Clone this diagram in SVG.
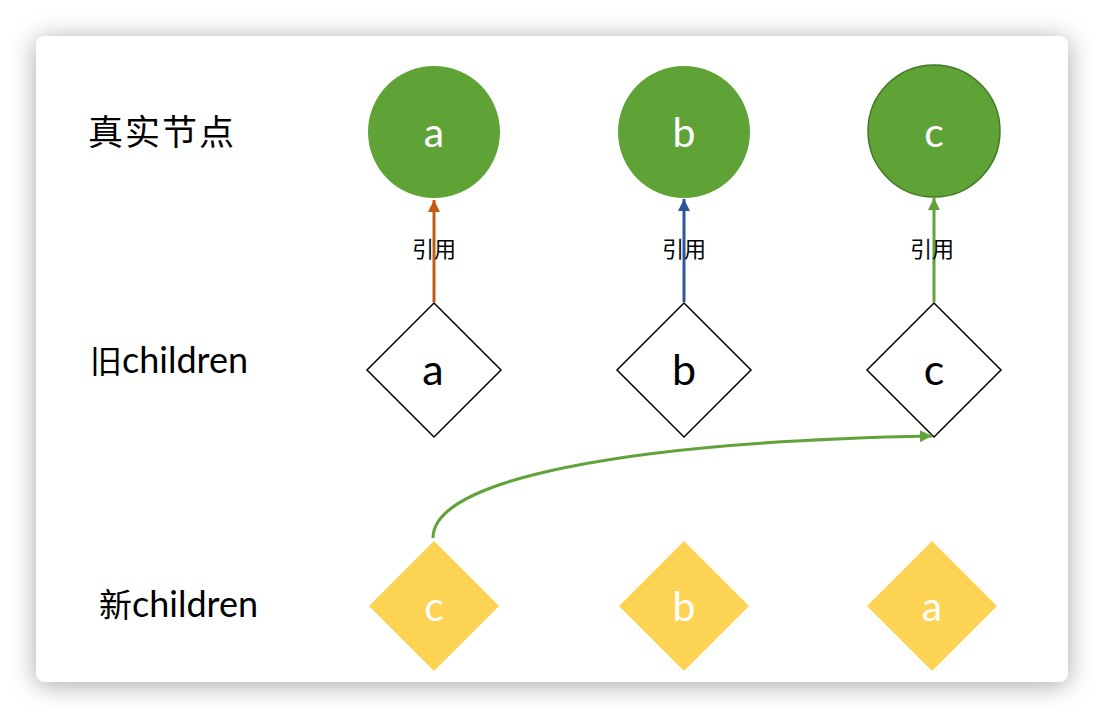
<svg xmlns="http://www.w3.org/2000/svg" width="1104" height="718" viewBox="0 0 1104 718">
<defs>
<filter id="sh" x="-10%" y="-10%" width="120%" height="125%">
<feDropShadow dx="0" dy="3" stdDeviation="13" flood-color="#000" flood-opacity="0.35"/>
</filter>
<marker id="mOr" viewBox="0 0 10 10" refX="10" refY="5" markerWidth="4.5" markerHeight="4" orient="auto" markerUnits="strokeWidth"><path d="M0,0 L10,5 L0,10 z" fill="#C55A11"/></marker>
<marker id="mBl" viewBox="0 0 10 10" refX="10" refY="5" markerWidth="4.5" markerHeight="4" orient="auto" markerUnits="strokeWidth"><path d="M0,0 L10,5 L0,10 z" fill="#2F5597"/></marker>
<marker id="mGr" viewBox="0 0 10 10" refX="10" refY="5" markerWidth="4.5" markerHeight="4" orient="auto" markerUnits="strokeWidth"><path d="M0,0 L10,5 L0,10 z" fill="#61A33A"/></marker>
<style>
.circ{fill:#5FA236;}
.olddia{fill:#fff;stroke:#000;stroke-width:1.5;}
.newdia{fill:#FDD353;}
.cl{font-family:"Lato","Open Sans",sans-serif;font-size:41px;fill:#fff;text-anchor:middle;}
.dl{font-family:"Lato","Open Sans",sans-serif;font-size:43px;fill:#000;text-anchor:middle;}
.nl{font-family:"Lato","Open Sans",sans-serif;font-size:41px;fill:#fff;text-anchor:middle;}
.row{font-family:"Lato","Noto Sans CJK SC",sans-serif;font-size:36px;fill:#000;}
.cjk{font-family:"Noto Sans CJK SC",sans-serif;fill:#000;}
.ref{font-family:"Noto Sans CJK SC",sans-serif;font-size:22px;fill:#000;text-anchor:middle;}
.conn{fill:none;stroke-width:3;}
</style>
</defs>
<rect x="0" y="0" width="1104" height="718" fill="#fff"/>
<rect x="36" y="36" width="1032" height="646" rx="9" ry="9" fill="#fff" filter="url(#sh)"/>

<g id="label-real"><text class="cjk" x="88" y="145" font-size="35" letter-spacing="2">真实节点</text></g>
<g id="label-old"><text class="row" x="90" y="373"><tspan class="cjk" font-size="32">旧</tspan>children</text></g>
<g id="label-new"><text class="row" x="99" y="617"><tspan class="cjk" font-size="33">新</tspan>children</text></g>

<g id="real-a"><circle class="circ" cx="434" cy="132" r="66"/><text class="cl" x="434" y="147">a</text></g>
<g id="real-b"><circle class="circ" cx="684" cy="132" r="66"/><text class="cl" x="684" y="147">b</text></g>
<g id="real-c"><circle class="circ" cx="934" cy="131" r="66" stroke="#3F7A22" stroke-width="1.5"/><text class="cl" x="934" y="147">c</text></g>

<g id="old-a"><polygon class="olddia" points="434,303 501,370 434,437 367,370"/><text class="dl" x="433" y="385">a</text></g>
<g id="old-b"><polygon class="olddia" points="684,303 751,370 684,437 617,370"/><text class="dl" x="684" y="385">b</text></g>
<g id="old-c"><polygon class="olddia" points="934,303 1001,370 934,437 867,370"/><text class="dl" x="934" y="385">c</text></g>

<g id="new-c"><polygon class="newdia" points="434,541 499,606 434,671 369,606"/><text class="nl" x="434" y="621">c</text></g>
<g id="new-b"><polygon class="newdia" points="684,541 749,606 684,671 619,606"/><text class="nl" x="684" y="621">b</text></g>
<g id="new-a"><polygon class="newdia" points="932,541 997,606 932,671 867,606"/><text class="nl" x="932" y="621">a</text></g>

<g id="connectors">
<line class="conn" x1="434" y1="302" x2="434" y2="200" stroke="#C55A11" marker-end="url(#mOr)"/>
<line class="conn" x1="684" y1="302" x2="684" y2="199" stroke="#2F5597" marker-end="url(#mBl)"/>
<line class="conn" x1="934" y1="302" x2="934" y2="198" stroke="#61A33A" marker-end="url(#mGr)"/>
<path class="conn" d="M433,538 C433,480 620,442 932,436" stroke="#61A33A" marker-end="url(#mGr)"/>
<text class="ref" x="434" y="257">引用</text>
<text class="ref" x="684" y="257">引用</text>
<text class="ref" x="932" y="257">引用</text>
</g>
</svg>
